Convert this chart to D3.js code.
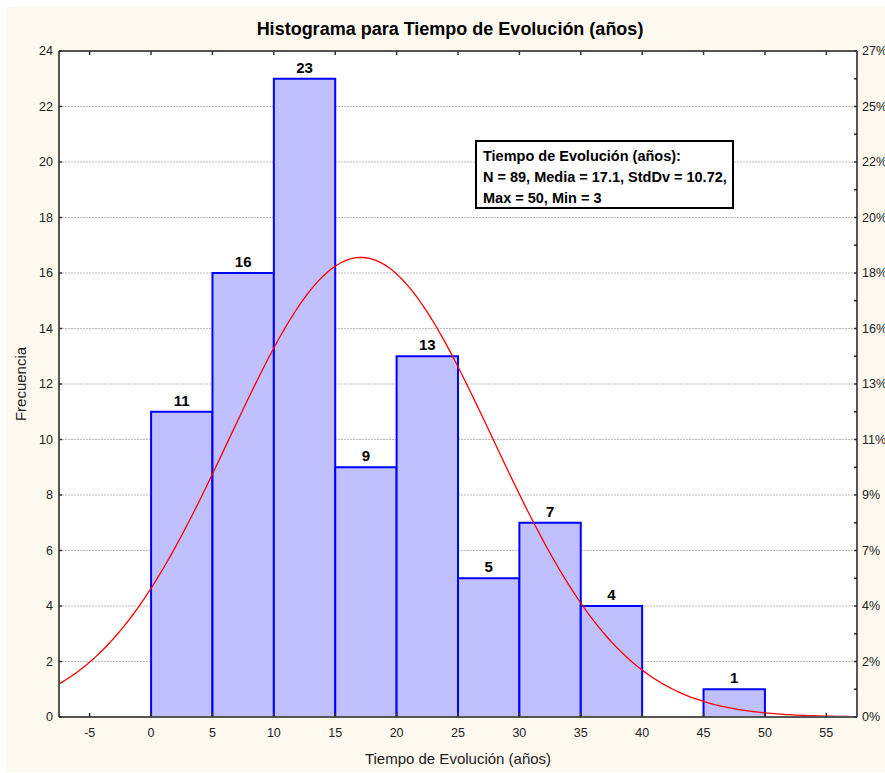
<!DOCTYPE html>
<html>
<head>
<meta charset="utf-8">
<script src="https://cdn.jsdelivr.net/npm/d3@7"></script>
<style>
  body { margin: 0; background: #fff; }
  svg { display: block; font-family: Arial, "Liberation Sans", sans-serif; }
</style>
</head>
<body>
<div id="chart"></div>
<script>
// histogram bins (lower edge) and counts
const binStarts = [0, 5, 10, 15, 20, 25, 30, 35, 40, 45];
const binWidth = 5;
const counts = [11, 16, 23, 9, 13, 5, 7, 4, 0, 1];

// summary stats shown in the box (used for the fitted normal curve)
const statN = 89;
const statMean = 17.1;
const statSd = 10.72;
const statLines = [
  'Tiempo de Evolución (años):',
  'N = 89, Media = 17.1, StdDv = 10.72,',
  'Max = 50, Min = 3'
];

const xTicks = [-5, 0, 5, 10, 15, 20, 25, 30, 35, 40, 45, 50, 55];
const yTicks = [0, 2, 4, 6, 8, 10, 12, 14, 16, 18, 20, 22, 24];

const width = 885;
const height = 773;
const margin = { top: 51, right: 28, bottom: 56, left: 59 };

const svg = d3.select('#chart')
  .append('svg')
  .attr('width', width)
  .attr('height', height);

// cream panel
svg.append('rect')
  .attr('x', 6).attr('y', 7)
  .attr('width', width - 6).attr('height', height - 8)
  .attr('fill', '#fdf9ee');

const x = d3.scaleLinear()
  .domain([-7.5, 57.5])
  .range([margin.left, width - margin.right]);
const y = d3.scaleLinear()
  .domain([0, 24])
  .range([height - margin.bottom, margin.top]);

// plot background
svg.append('rect')
  .attr('x', x(-7.5)).attr('y', y(24))
  .attr('width', x(57.5) - x(-7.5))
  .attr('height', y(0) - y(24))
  .attr('fill', '#fff');

// horizontal grid
svg.append('g')
  .selectAll('line')
  .data(yTicks.filter(d => d > 0 && d < 24))
  .join('line')
  .attr('x1', x(-7.5)).attr('x2', x(57.5))
  .attr('y1', d => y(d)).attr('y2', d => y(d))
  .attr('stroke', '#bbb')
  .attr('stroke-width', 1)
  .attr('stroke-dasharray', '2,1');

const bins = counts.map((c, i) => ({ x0: binStarts[i], c })).filter(d => d.c > 0);

// bars
svg.append('g')
  .selectAll('rect')
  .data(bins)
  .join('rect')
  .attr('x', d => x(d.x0))
  .attr('y', d => y(d.c))
  .attr('width', d => x(d.x0 + binWidth) - x(d.x0))
  .attr('height', d => y(0) - y(d.c))
  .attr('fill', '#c0c0ff')
  .attr('stroke', '#0000ff')
  .attr('stroke-width', 2);

// bar labels
svg.append('g')
  .selectAll('text')
  .data(bins)
  .join('text')
  .attr('x', d => x(d.x0 + binWidth / 2))
  .attr('y', d => y(d.c) - 6)
  .attr('text-anchor', 'middle')
  .attr('font-size', 15)
  .attr('font-weight', 'bold')
  .text(d => d.c);

// fitted normal curve, scaled to counts
const expected = v => statN * binWidth / (statSd * Math.sqrt(2 * Math.PI)) *
  Math.exp(-0.5 * Math.pow((v - statMean) / statSd, 2));
const curveX = d3.range(-7.5, 57.51, 0.25);
svg.append('path')
  .datum(curveX)
  .attr('fill', 'none')
  .attr('stroke', '#ff0000')
  .attr('stroke-width', 1.3)
  .attr('d', d3.line().x(d => x(d)).y(d => y(expected(d))));

// frame / axes
const axisColor = '#555';
const frame = svg.append('g').attr('stroke', axisColor).attr('stroke-width', 2).attr('fill', 'none');
frame.append('line').attr('x1', x(-7.5)).attr('x2', x(57.5)).attr('y1', y(0)).attr('y2', y(0));
frame.append('line').attr('x1', x(-7.5)).attr('x2', x(57.5)).attr('y1', y(24)).attr('y2', y(24));
frame.append('line').attr('x1', x(-7.5)).attr('x2', x(-7.5)).attr('y1', y(0)).attr('y2', y(24));
frame.append('line').attr('x1', x(57.5)).attr('x2', x(57.5)).attr('y1', y(0)).attr('y2', y(24));

// ticks: bottom/top inward, left/right small
const tickG = svg.append('g').attr('stroke', '#333').attr('stroke-width', 1.5);
xTicks.forEach(t => {
  tickG.append('line').attr('x1', x(t)).attr('x2', x(t)).attr('y1', y(0)).attr('y2', y(0) - 4);
  tickG.append('line').attr('x1', x(t)).attr('x2', x(t)).attr('y1', y(24)).attr('y2', y(24) + 4);
});
yTicks.forEach(t => {
  tickG.append('line').attr('x1', x(-7.5)).attr('x2', x(-7.5) + 3).attr('y1', y(t)).attr('y2', y(t));
  tickG.append('line').attr('x1', x(57.5) - 3).attr('x2', x(57.5)).attr('y1', y(t)).attr('y2', y(t));
  if (t < 24) {
    tickG.append('line').attr('x1', x(57.5) - 3).attr('x2', x(57.5)).attr('y1', y(t + 1)).attr('y2', y(t + 1));
  }
});

// x tick labels
svg.append('g')
  .selectAll('text')
  .data(xTicks)
  .join('text')
  .attr('x', d => x(d))
  .attr('y', y(0) + 20)
  .attr('text-anchor', 'middle')
  .attr('font-size', 12.5)
  .attr('fill', '#222')
  .text(d => d);

// left tick labels
svg.append('g')
  .selectAll('text')
  .data(yTicks)
  .join('text')
  .attr('x', x(-7.5) - 6)
  .attr('y', d => y(d) + 4)
  .attr('text-anchor', 'end')
  .attr('font-size', 12.5)
  .attr('fill', '#222')
  .text(d => d);

// right percent labels
svg.append('g')
  .selectAll('text')
  .data(yTicks)
  .join('text')
  .attr('x', x(57.5) + 5)
  .attr('y', d => y(d) + 4)
  .attr('text-anchor', 'start')
  .attr('font-size', 12.5)
  .attr('fill', '#222')
  .text(d => Math.round(d / statN * 100) + '%');

// titles
svg.append('text')
  .attr('x', 450).attr('y', 35)
  .attr('text-anchor', 'middle')
  .attr('font-size', 18)
  .attr('font-weight', 'bold')
  .text('Histograma para Tiempo de Evolución (años)');

svg.append('text')
  .attr('x', (x(-7.5) + x(57.5)) / 2).attr('y', 764)
  .attr('text-anchor', 'middle')
  .attr('font-size', 15)
  .attr('fill', '#222')
  .text('Tiempo de Evolución (años)');

svg.append('text')
  .attr('transform', `translate(26,${(y(0) + y(24)) / 2}) rotate(-90)`)
  .attr('text-anchor', 'middle')
  .attr('font-size', 15)
  .attr('fill', '#222')
  .text('Frecuencia');

// stats box
const box = svg.append('g').attr('transform', 'translate(476,141)');
box.append('rect')
  .attr('width', 257).attr('height', 67)
  .attr('fill', '#fff')
  .attr('stroke', '#000')
  .attr('stroke-width', 2);
box.selectAll('text')
  .data(statLines)
  .join('text')
  .attr('x', 7)
  .attr('y', (d, i) => 20 + i * 21)
  .attr('font-size', 14.5)
  .attr('font-weight', 'bold')
  .attr('letter-spacing', 0)
  .text(d => d);
</script>
</body>
</html>
